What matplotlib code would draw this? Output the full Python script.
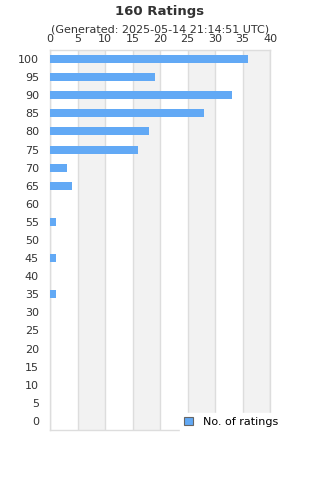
import matplotlib.pyplot as plt
from matplotlib.patches import Patch

scores = [0, 5, 10, 15, 20, 25, 30, 35, 40, 45, 50, 55, 60, 65, 70, 75, 80, 85, 90, 95, 100]
counts = [0, 0, 0, 0, 0, 0, 0, 1, 0, 1, 0, 1, 0, 4, 3, 16, 18, 28, 33, 19, 36]
x_ticks = [0, 5, 10, 15, 20, 25, 30, 35, 40]

bar_color = "#62a9f5"
grid_color = "#dddddd"
text_color = "#333333"

fig = plt.figure(figsize=(3.2, 4.8), dpi=100)
ax = fig.add_axes([50 / 320, 50 / 480, 220 / 320, 380 / 480])

# alternating bands
for i in range(len(x_ticks) - 1):
    if i % 2 == 1:
        ax.axvspan(x_ticks[i], x_ticks[i + 1], color="#f2f2f2", zorder=0, lw=0)
for t in x_ticks:
    ax.axvline(t, color=grid_color, lw=1, zorder=1)

ax.barh(scores, counts, height=2.2, color=bar_color, zorder=3)

ax.set_xlim(0, 40)
ax.set_ylim(-2.5, 102.5)
ax.set_xticks(x_ticks)
ax.set_yticks(scores)
ax.xaxis.tick_top()
ax.tick_params(length=0, labelsize=8, colors=text_color)
ax.tick_params(axis="x", pad=4.5)
ax.tick_params(axis="y", pad=8)
for s in ax.spines.values():
    s.set_color(grid_color)
    s.set_linewidth(1)

fig.text(0.5, 1 - 11 / 480, "160 Ratings", ha="center", va="center",
         fontsize=9.5, fontweight="bold", color=text_color)
fig.text(0.5, 1 - 30 / 480, "(Generated: 2025-05-14 21:14:51 UTC)", ha="center",
         va="center", fontsize=8, color=text_color)

handle = Patch(facecolor=bar_color, edgecolor="#666666", lw=0.8)
leg = fig.legend([handle], ["No. of ratings"], loc="center left",
                 bbox_to_anchor=(180 / 320, 1 - 422 / 480), fontsize=8,
                 frameon=True, fancybox=False, handlelength=0.8, handleheight=0.8,
                 borderpad=0.4, handletextpad=0.9, borderaxespad=0)
leg.get_frame().set_edgecolor("white")
leg.get_frame().set_facecolor("white")
leg.get_frame().set_alpha(1)

fig.savefig("out.png", dpi=100)
